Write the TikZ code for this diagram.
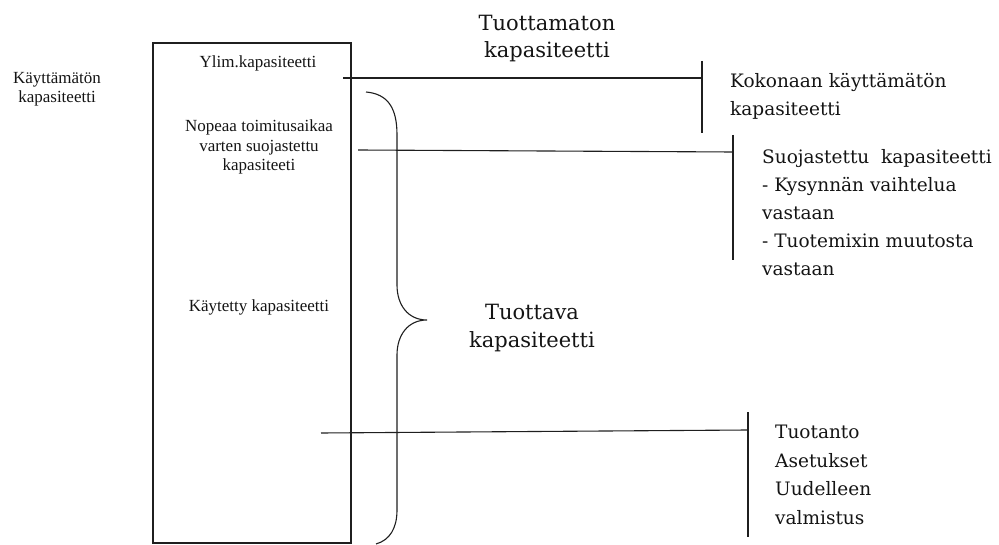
\documentclass[tikz,border=0pt]{standalone}
\usepackage{fontspec}
\setmainfont{Liberation Serif}
\newfontfamily\bigserif{DejaVu Serif}
\begin{document}
\begin{tikzpicture}[x=1pt,y=-1pt,
  ink/.style={draw=black!88, line width=1.1pt},
  boxtxt/.style={text=black!92, align=center, inner sep=0pt,
    font=\fontsize{17}{19.5}\selectfont},
  headtxt/.style={text=black!92, anchor=center, inner sep=0pt,
    font=\bigserif\fontsize{21}{29.5}\selectfont},
  sidetxt/.style={text=black!92, align=left, anchor=west, inner sep=0pt,
    font=\bigserif\fontsize{18.5}{28}\selectfont}]
\useasboundingbox (0,0) rectangle (999,545);

% capacity column
\node[ink, draw, minimum width=198pt, minimum height=500pt, inner sep=0pt] (col) at (252,293) {};

% labels inside and beside the column
\node[boxtxt] (unused) at (57,89) {Käyttämätön\\kapasiteetti};
\node[boxtxt] (excess) at (258,63) {Ylim.kapasiteetti};
\node[boxtxt] (fast) at (259,147) {Nopeaa toimitusaikaa\\varten suojastettu\\kapasiteeti};
\node[boxtxt] (used) at (259,307) {Käytetty kapasiteetti};

% headings, one centred line per node
\node[headtxt] (nonprod) at (547,23) {Tuottamaton};
\node[headtxt] (nonprod2) at (547,52) {kapasiteetti};
\node[headtxt] (prod) at (532,312) {Tuottava};
\node[headtxt] (prod2) at (532,342) {kapasiteetti};

% right-hand explanations
\node[sidetxt] (total) at (730,96) {Kokonaan käyttämätön\\kapasiteetti};
\node[sidetxt] (protect) at (762,213) {Suojastettu~ kapasiteetti\\- Kysynnän vaihtelua\\vastaan\\- Tuotemixin muutosta\\vastaan};
\node[sidetxt, font=\bigserif\fontsize{18.5}{28.5}\selectfont] (prodlist) at (775,475) {Tuotanto\\Asetukset\\Uudelleen\\valmistus};

% leader lines and end bars
\coordinate (a1) at (343,78);  \coordinate (b1) at (702,78);
\coordinate (t1) at (702,61);  \coordinate (u1) at (702,133);
\coordinate (a2) at (358,150); \coordinate (b2) at (733,152);
\coordinate (t2) at (733,135); \coordinate (u2) at (733,260);
\coordinate (a3) at (321,433); \coordinate (b3) at (748,430);
\coordinate (t3) at (748,412); \coordinate (u3) at (748,537);
\draw[ink] (a1) -- (b1);
\draw[ink] (t1) -- (u1);
\draw[ink] (a2) -- (b2);
\draw[ink] (t2) -- (u2);
\draw[ink] (a3) -- (b3);
\draw[ink] (t3) -- (u3);

% curly brace
\coordinate (brtop) at (366,92);
\coordinate (brtip) at (427,320);
\coordinate (brbot) at (376,544);
\draw[ink] (brtop) .. controls (388,94) and (397,108) .. (397,135)
  -- (397,285) .. controls (397,305) and (408,320) .. (brtip)
  .. controls (408,320) and (397,335) .. (397,355)
  -- (397,510) .. controls (397,528) and (390,540) .. (brbot);
\end{tikzpicture}
\end{document}
